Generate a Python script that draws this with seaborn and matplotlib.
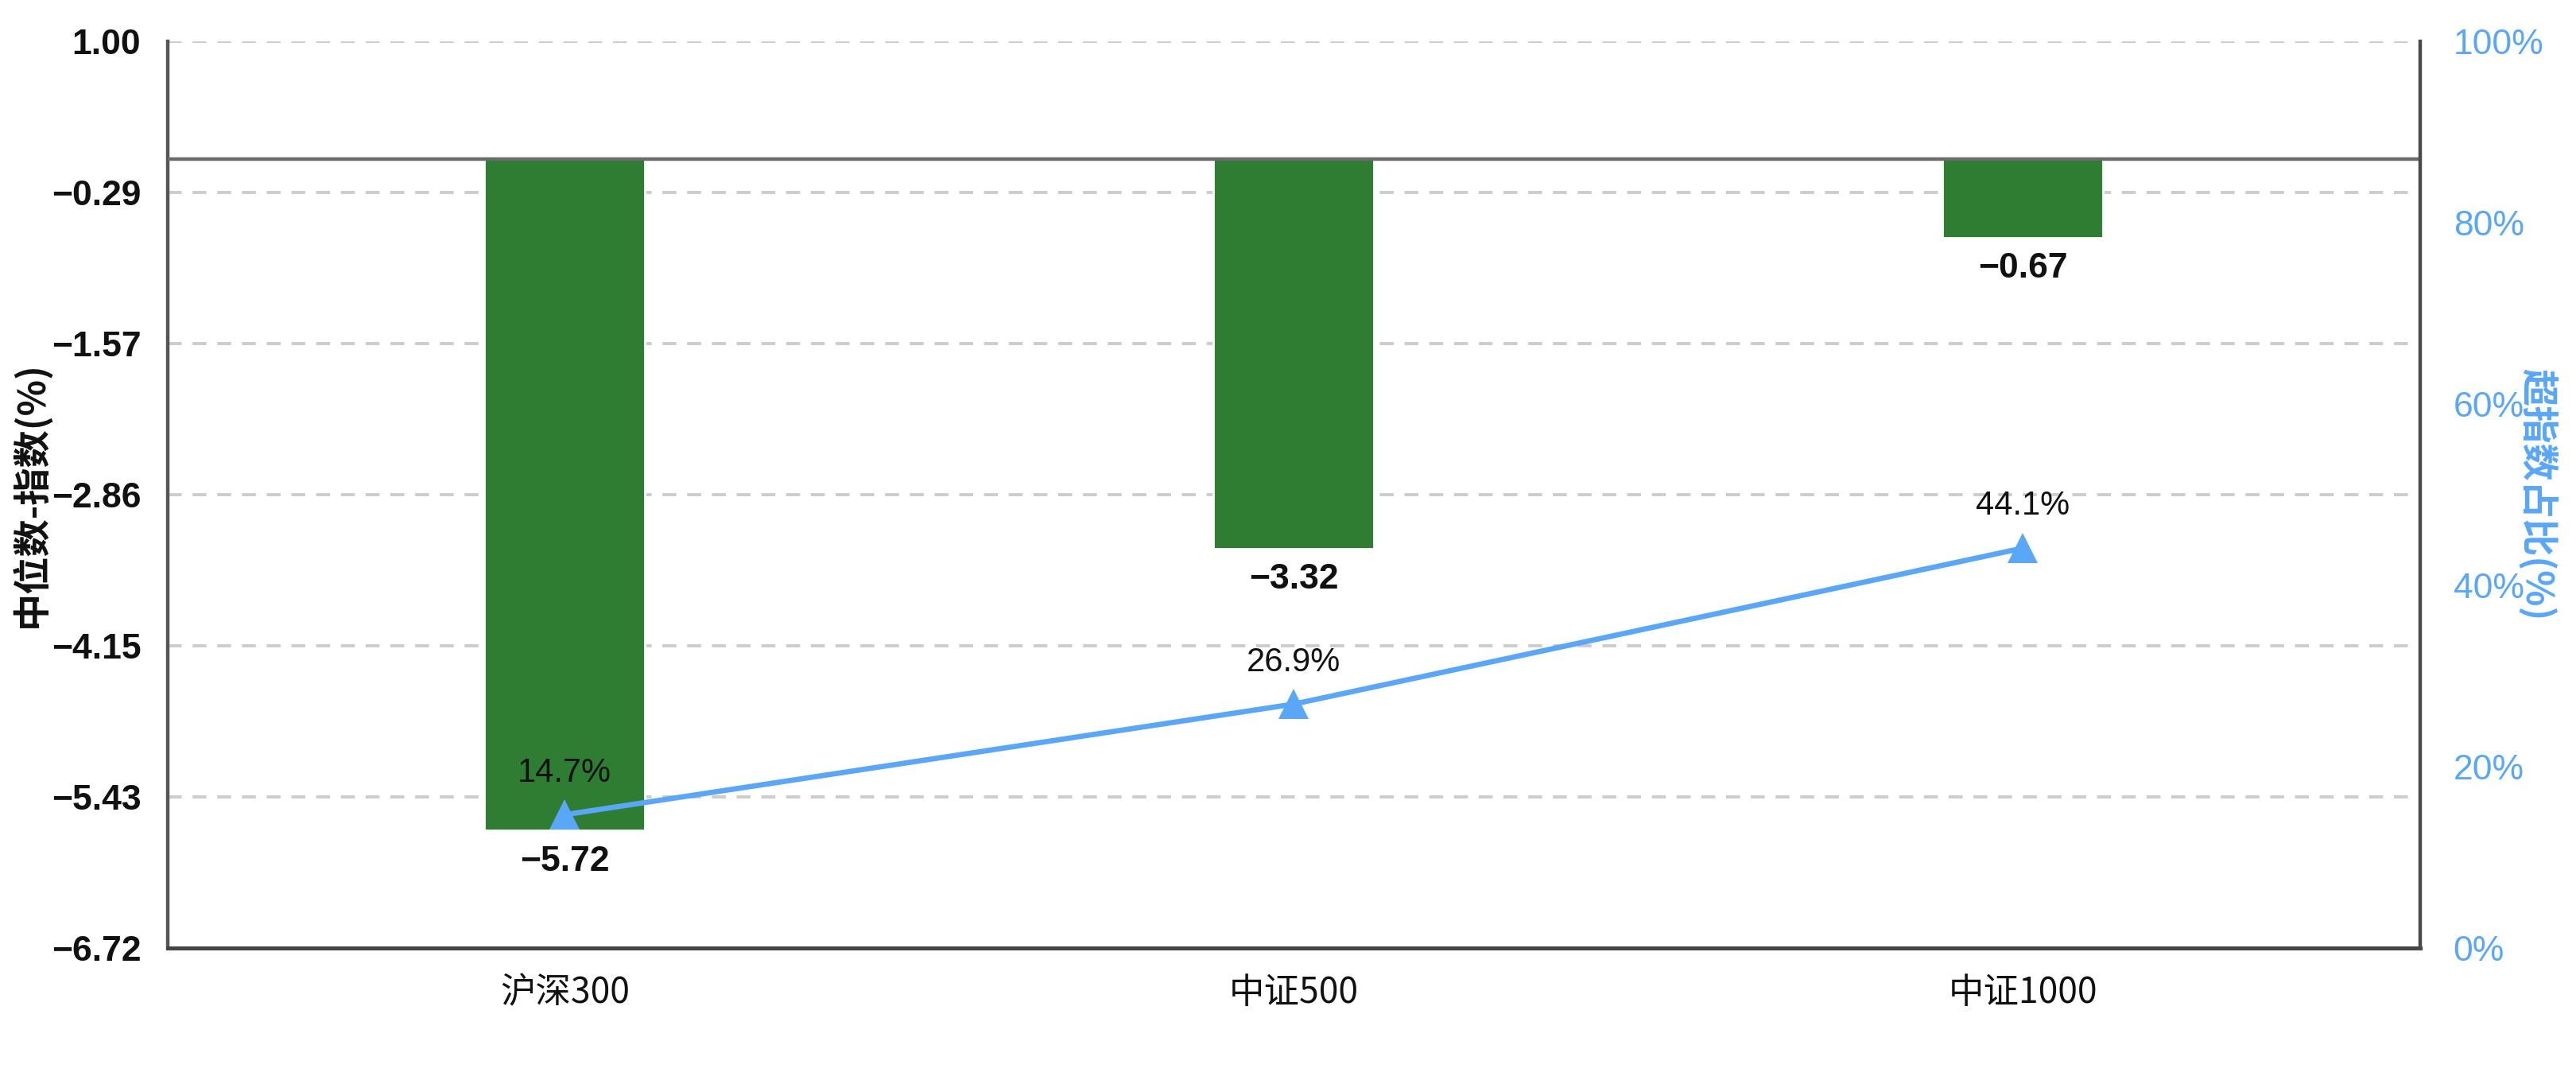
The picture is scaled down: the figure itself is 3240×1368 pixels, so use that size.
"""
中位数-指数 vs 超指数占比: bar + line on twin axes
"""

import numpy as np
import pandas as pd
import matplotlib
matplotlib.use('Agg')
import matplotlib.pyplot as plt
import seaborn as sns

# ----------------------------------------------------------------------------
# DATA
# ----------------------------------------------------------------------------
categories = ['沪深300', '中证500', '中证1000']
median_minus_index = [-5.72, -3.32, -0.67]   # left axis, %
above_index_share = [14.7, 26.9, 44.1]       # right axis, %

left_ylim = (-6.72, 1.00)
right_ticks = [0, 20, 40, 60, 80, 100]

GREEN = '#2e7d32'
BLUE = '#5aa6f7'

sns.set_theme(style='white')
plt.rcParams['font.family'] = ['Liberation Sans', 'Noto Sans CJK SC', 'DejaVu Sans']
plt.rcParams['axes.unicode_minus'] = True

df = pd.DataFrame({
    'index': categories,
    'diff': median_minus_index,
    'share': above_index_share,
})

fig, ax = plt.subplots(figsize=(16.2, 6.84), dpi=200)
fig.subplots_adjust(left=0.065, right=0.9395, top=0.962, bottom=0.1287)

# bars
sns.barplot(data=df, x='index', y='diff', ax=ax, color=GREEN, saturation=1,
            width=0.22, zorder=2)

ax.set_xlim(-0.545, 2.545)
ax.set_ylim(*left_ylim)
yticks = np.linspace(left_ylim[0], left_ylim[1], 7)
ax.set_yticks(yticks)
ax.set_yticklabels([f'{v:.2f}'.replace('-', '\u2212') for v in yticks],
                   fontweight='bold', fontsize=16, color='#111111')
ax.yaxis.grid(True, linestyle=(0, (4.5, 3.5)), color='#cccccc', lw=1.4, zorder=0)
ax.xaxis.grid(False)
ax.set_axisbelow(True)
ax.axhline(0, color='#6b6b6b', lw=1.6, zorder=3)

ax.set_xlabel('')
ax.set_ylabel('中位数-指数(%)', fontsize=17, fontweight='bold', color='#111111',
              family=['Noto Sans CJK SC', 'DejaVu Sans'], labelpad=0)
ax.tick_params(axis='y', length=0, pad=12)
ax.tick_params(axis='x', length=0, pad=12)
for lbl in ax.get_xticklabels():
    lbl.set_family(['Noto Sans CJK SC', 'DejaVu Sans'])
    lbl.set_fontsize(16)
    lbl.set_color('#111111')

ax.spines['top'].set_visible(False)
ax.spines['left'].set_color('#555555')
ax.spines['left'].set_linewidth(1.6)
ax.spines['bottom'].set_color('#444444')
ax.spines['bottom'].set_linewidth(1.8)
ax.spines['right'].set_visible(False)

# bar value labels, below bar ends
for i, v in enumerate(median_minus_index):
    ax.annotate(f'{v:.2f}'.replace('-', '\u2212'), xy=(i, v), xytext=(0, -14),
                textcoords='offset points', ha='center', va='center',
                fontsize=16, fontweight='bold', color='#111111')

# line on right axis
ax2 = ax.twinx()
sns.lineplot(data=df, x='index', y='share', ax=ax2, color=BLUE, lw=2.4,
             marker='^', markersize=14, markeredgewidth=0, sort=False, zorder=4)
ax2.set_ylim(0, 100)
ax2.set_yticks(right_ticks)
ax2.set_yticklabels([f'{t}%' for t in right_ticks], fontsize=16, color=BLUE)
ax2.tick_params(axis='y', length=0, pad=15)
ax2.set_ylabel('超指数占比(%)', fontsize=17, fontweight='bold', color=BLUE,
               family=['Noto Sans CJK SC', 'DejaVu Sans'], rotation=270, labelpad=6)
ax2.grid(False)
for side in ['top', 'left', 'bottom']:
    ax2.spines[side].set_visible(False)
ax2.spines['right'].set_color('#4a4a4a')
ax2.spines['right'].set_linewidth(1.6)

for i, v in enumerate(above_index_share):
    ax2.annotate(f'{v:.1f}%', xy=(i, v), xytext=(0, 19),
                 textcoords='offset points', ha='center', va='center',
                 fontsize=15, color='#111111')

ax.set_xlim(-0.545, 2.545)

fig.savefig('out.png', dpi=200)
